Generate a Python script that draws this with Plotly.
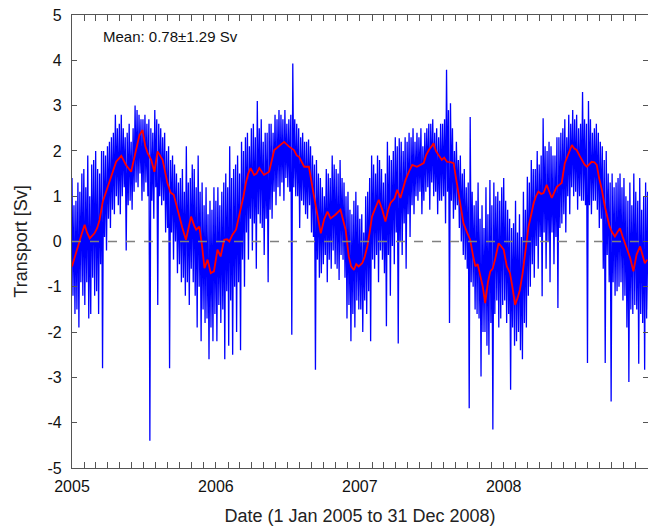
import numpy as np
import pandas as pd
import plotly.graph_objects as go

# ---- data ----
years = [2005, 2006, 2007, 2008]
step_days = 5  # each 5-day window holds one upper and one lower daily extreme

# extreme value of each 5-day window (spikes and envelope)
blue_2005 = [1.4, -1.6, 0.9, -1.9, 1.1, -1.2, 1.6, -0.9, 1.9, -1.6, 1.7, -1.2, 2.0, -1.6, 1.5, -2.8,
             2.0, -0.2, 2.1, 0.3, 2.3, 0.6, 2.8, 0.8, 2.6, 1.0, 2.5, -0.2, 2.4, 0.9, 2.2, 1.1, 3.0,
             1.2, 2.8, 0.9, 2.7, 1.3, 2.6, -4.4, 2.5, 0.5, 2.9, -1.4, 2.6, 0.8, 2.3, 0.2, 2.0, -2.8,
             1.8, -0.4, 1.7, -0.7, 1.3, -0.9, 1.6, -1.2, 2.1, -1.4, 1.4, -0.9, 1.6, -1.9, 1.9, -2.2,
             1.3, -1.8, 1.2, -2.6, 0.9, -2.2, 1.2]
blue_2006 = [-2.2, 1.2, -1.8, 1.1, -2.6, 1.5, -2.3, 2.1, -2.5, 1.6, -2.0, 1.9, -2.4, 2.2, -1.0, 2.3,
             -0.4, 2.1, -0.2, 2.6, -0.6, 3.1, 0.4, 2.7, -0.3, 2.4, -0.9, 2.6, 0.5, 2.4, 0.8, 2.7,
             1.0, 2.8, 0.9, 2.9, 1.2, 2.7, -2.06, 3.93, 1.0, 2.6, 0.3, 2.3, 0.8, 2.2, 0.5, 2.25,
             0.2, 1.9, -2.83, 1.8, -0.8, 1.4, -0.5, 1.0, -0.9, 1.5, -0.6, 1.9, -0.5, 1.6, -0.85,
             1.8, -0.4, 1.3, -1.7, 1.1, -2.2, 0.6, -1.9, 1.1, -1.5]
blue_2007 = [0.5, -2.0, 0.2, -1.6, 1.1, -2.2, 1.9, -0.6, 1.5, -0.9, 1.8, -0.4, 1.3, -1.87, 2.2, -1.2,
             1.8, -0.5, 2.3, -2.25, 2.28, -0.3, 2.0, -0.6, 2.2, 0.1, 2.3, 0.6, 2.2, 0.9, 2.3, 0.6,
             2.1, 1.1, 2.5, 0.7, 2.6, 1.0, 2.4, 0.6, 2.3, 0.9, 2.6, 0.4, 3.79, -1.8, 3.05, 0.5,
             2.0, 0.8, 1.8, 0.0, 1.5, -0.4, 1.2, -3.68, 2.75, -1.0, 0.8, -1.6, 1.3, -2.98, 0.8,
             -2.0, 1.2, -2.5, 1.36, -4.15, 1.3, -1.3, 1.1, -1.7, 1.2]
blue_2008 = [1.4, -1.8, 0.7, -3.27, 0.3, -2.3, 0.9, -2.0, 0.6, -2.6, 1.1, -1.9, 1.43, -1.0, 1.8, -0.8,
             1.6, -0.6, 1.7, -1.21, 2.72, -0.6, 2.0, -0.9, 2.1, -0.5, 1.9, -1.47, 2.3, 0.4, 2.5,
             0.2, 2.3, 0.6, 2.6, 1.0, 2.7, 0.7, 2.5, 0.9, 3.3, 0.8, -2.68, 3.1, 0.6, 2.4, 0.9, 2.6,
             0.3, 2.2, -0.6, -2.68, 2.0, -0.9, -3.53, 1.5, -1.2, 1.3, -1.0, 1.5, -1.3, 1.4, -1.9,
             -3.1, 1.3, -1.6, 1.5, -1.5, -2.7, 1.4, -1.8, -2.83, 1.3, -1.5]

# the opposite (typical-band) value of each 5-day window
band_2005 = [-1.2, 0.8, -1.5, 1.3, -0.9, 1.5, -1.4, 1.2, -1.7, 1.0, -0.8, 1.8, -1.1, 1.6, -0.5, 2.0,
             0.1, 1.9, 0.5, 2.2, 0.7, 2.4, 1.0, 2.5, 0.6, 2.8, 1.2, 2.3, 0.8, 2.6, 0.7, 2.5, 1.3,
             2.9, 1.5, 2.7, 1.1, 2.8, 1.0, 2.7, 0.9, 2.4, 1.2, 2.7, 1.0, 2.5, 0.9, 2.4, 0.3, 2.1,
             0.2, 1.9, 0.0, 1.5, -0.5, 1.4, -0.8, 1.1, -0.9, 1.3, -0.6, 1.7, -1.2, 1.2, -1.0, 1.1,
             -1.5, 0.8, -1.7, 0.6, -1.9, 0.7, -1.6]
band_2006 = [0.9, -1.4, 0.8, -1.5, 1.3, -1.1, 1.2, -1.3, 1.4, -1.0, 1.7, -0.9, 1.5, -0.4, 2.0, 0.2,
             2.4, 0.5, 2.5, 0.4, 2.3, 0.6, 2.5, 0.3, 2.2, 0.5, 2.4, 0.7, 2.6, 1.1, 2.8, 1.2, 2.9,
             1.3, 2.7, 1.4, 2.6, 1.1, 2.8, 1.2, 2.7, 1.0, 2.5, 0.9, 2.4, 0.6, 2.2, 0.8, 2.1, 0.1,
             1.7, -0.4, 1.5, -0.7, 1.2, -0.3, 1.6, -0.4, 1.4, -0.2, 1.7, -0.6, 1.5, -0.3, 1.4,
             -0.8, 1.0, -1.4, 0.7, -1.6, 0.9, -1.3, 0.8]
band_2007 = [-1.5, 0.6, -1.3, 1.0, -1.1, 1.4, -0.4, 1.7, -0.3, 1.9, -0.2, 1.6, -0.7, 1.5, -0.3, 1.9,
             -0.1, 2.0, 0.2, 2.1, 0.0, 2.2, 0.4, 2.3, 0.6, 2.4, 0.8, 2.5, 1.0, 2.4, 1.1, 2.5, 0.9,
             2.4, 1.2, 2.6, 1.3, 2.7, 1.1, 2.5, 0.9, 2.6, 1.0, 2.7, 1.1, 2.9, 0.9, 2.5, 0.7, 2.2,
             0.3, 1.9, -0.3, 1.6, -0.6, 1.3, -0.9, 1.1, -1.5, 0.9, -1.7, 0.5, -2.0, 0.3, -2.3,
             0.6, -1.8, 0.8, -1.6, 1.0, -1.9, 0.9, -1.4]
band_2008 = [-1.3, 0.9, -1.6, 0.5, -1.9, 0.4, -2.2, 0.2, -2.4, 0.1, -1.8, 0.7, -1.2, 1.3, -0.5, 1.6,
             -0.1, 2.0, 0.1, 1.9, 0.2, 2.1, 0.0, 2.2, 0.2, 1.9, 0.1, 2.3, 0.3, 2.4, 0.6, 2.7, 1.0,
             2.8, 1.2, 2.9, 1.1, 2.8, 1.0, 2.6, 0.9, 2.7, 2.6, 0.8, 2.7, 0.9, 2.5, 0.7, 2.4, 0.5,
             2.1, 1.8, -0.3, 1.5, 1.3, -0.9, 1.2, -1.1, 1.4, -0.9, 1.2, -1.2, 1.0, 0.9, -1.5, 0.8,
             -1.4, 1.1, 0.9, -1.6, 0.7, 1.0, -1.7, 1.1]

# smoothed series: day offset since 1 Jan 2005, value [Sv]
red_days = [0, 8, 15, 24, 32, 38, 45, 57, 64, 70, 78, 91, 103, 112, 125, 137, 150, 158, 171, 179,
            186, 192, 201, 209, 217, 230, 242, 250, 258, 265, 272, 280, 289, 302, 310, 315, 323,
            330, 336, 344, 352, 360,
            369, 377, 386, 393, 399, 407, 416, 428, 435, 441, 447, 453, 462, 468, 475, 487, 500,
            513, 525, 538, 550, 563, 570, 576, 589, 601, 614, 623, 631, 640, 648, 656, 668, 681,
            694, 702, 708, 715, 721, 727,
            736, 742, 749, 755, 761, 770, 778, 787, 795, 802, 808, 818, 825, 833, 840, 846, 855,
            863, 875, 885, 892, 898, 905, 912, 917, 923, 930, 938, 944, 951, 960, 968, 974, 980,
            987, 993, 1002, 1010, 1017, 1023, 1029, 1035, 1042, 1048, 1055, 1061, 1067, 1073,
            1082, 1088, 1095,
            1103, 1111, 1117, 1124, 1130, 1136, 1143, 1149, 1158, 1165, 1171, 1177, 1183, 1190,
            1196, 1204, 1211, 1217, 1224, 1230, 1236, 1242, 1250, 1259, 1268, 1274, 1280, 1287,
            1293, 1300, 1306, 1312, 1318, 1325, 1331, 1337, 1344, 1351, 1357, 1363, 1369, 1377,
            1383, 1390, 1397, 1403, 1410, 1416, 1424, 1432, 1441, 1447, 1453, 1459]
red_vals = [-0.55, -0.3, -0.1, 0.15, 0.37, 0.2, 0.07, 0.18, 0.3, 0.48, 0.88, 1.21, 1.5, 1.76, 1.89,
            1.69, 1.54, 1.87, 2.35, 2.46, 2.1, 1.95, 1.8, 1.54, 1.99, 1.8, 1.29, 1.08, 1.03, 0.8,
            0.55, 0.3, 0.04, 0.55, 0.35, 0.26, 0.33, -0.1, -0.59, -0.4, -0.7, -0.66,
            -0.18, -0.33, 0.04, 0.05, 0.0, 0.15, 0.26, 0.7, 1.0, 1.29, 1.5, 1.62, 1.47, 1.5, 1.62,
            1.47, 1.54, 2.02, 2.1, 2.2, 2.1, 2.02, 1.9, 1.87, 1.65, 1.65, 0.99, 0.6, 0.18, 0.5,
            0.66, 0.51, 0.59, 0.7, 0.26, -0.33, -0.55, -0.63, -0.5, -0.55,
            -0.48, -0.35, -0.11, 0.2, 0.55, 0.75, 0.92, 0.7, 0.44, 0.7, 0.85, 0.95, 1.14, 0.96,
            1.2, 1.36, 1.55, 1.69, 1.65, 1.7, 1.73, 1.9, 2.02, 2.1, 2.17, 2.0, 1.91, 1.8, 1.85,
            1.76, 1.75, 1.73, 1.4, 1.07, 0.7, 0.4, 0.2, 0.04, -0.3, -0.55, -0.5, -0.77, -1.0,
            -1.36, -0.9, -0.66, -0.6, -0.4, -0.04, -0.1, -0.18,
            -0.55, -0.7, -1.0, -1.4, -1.25, -1.07, -0.7, -0.33, 0.33, 0.6, 0.85, 1.0, 1.1, 1.05,
            1.07, 1.25, 1.1, 0.96, 1.1, 1.21, 1.25, 1.29, 1.73, 1.95, 2.13, 2.05, 2.02, 1.9, 1.8,
            1.7, 1.65, 1.7, 1.76, 1.75, 1.69, 1.4, 1.14, 0.8, 0.55, 0.35, 0.22, 0.11, 0.2, 0.29,
            0.1, -0.04, -0.2, -0.37, -0.66, -0.29, -0.11, -0.3, -0.48, -0.4]

y_ticks = [-5, -4, -3, -2, -1, 0, 1, 2, 3, 4, 5]
y_tick_labels = ["-5", "-4", "-3", "-2", "-1", "0", "1", "2", "3", "4", "5"]
x_tick_labels = ["2005", "2006", "2007", "2008"]
mean_text = "Mean: 0.78\u00b11.29 Sv"

# ---- build the blue series: in every 5-day window, upper value first, then lower ----
blue_x, blue_y = [], []
for yr, ext, band in zip(years, [blue_2005, blue_2006, blue_2007, blue_2008],
                         [band_2005, band_2006, band_2007, band_2008]):
    start = pd.Timestamp(f"{yr}-01-01")
    for i, (a, b) in enumerate(zip(ext, band)):
        t0 = start + pd.Timedelta(days=step_days * i)
        blue_x += [t0, t0 + pd.Timedelta(hours=60)]
        blue_y += [max(a, b), min(a, b)]

red_x = pd.Timestamp("2005-01-01") + pd.to_timedelta(np.array(red_days), unit="D")

FONT = "Liberation Sans, Arial, sans-serif"
AX = "#555555"

fig = go.Figure()
fig.add_trace(go.Scatter(x=blue_x, y=blue_y, mode="lines",
                         line=dict(color="rgb(0,0,255)", width=1.3), showlegend=False))
fig.add_trace(go.Scatter(x=red_x, y=red_vals, mode="lines",
                         line=dict(color="rgb(255,0,0)", width=1.8), showlegend=False))

fig.add_shape(type="line", xref="paper", yref="y", x0=0, x1=1, y0=0, y1=0,
              line=dict(color="rgb(128,128,128)", width=1.3, dash="dash"), layer="above")

fig.add_annotation(text=mean_text, xref="paper", yref="paper", x=0.05, y=0.952,
                   xanchor="left", yanchor="middle", showarrow=False,
                   font=dict(family=FONT, size=15, color="#111111"))

fig.update_layout(
    width=648, height=530,
    margin=dict(l=72, r=0, t=15, b=62),
    paper_bgcolor="white", plot_bgcolor="white",
    font=dict(family=FONT, color="#111111"),
    xaxis=dict(
        type="date", range=["2005-01-01", "2009-01-01"],
        tickvals=[f"{y}-01-01" for y in years], ticktext=x_tick_labels,
        ticks="inside", ticklen=6, tickcolor=AX, tickwidth=1,
        minor=dict(dtick="M1", ticks="inside", ticklen=6, tickcolor=AX, tickwidth=1, showgrid=False),
        showline=True, linecolor=AX, linewidth=1.2, mirror="allticks",
        showgrid=False, zeroline=False,
        tickfont=dict(family=FONT, size=16, color="#111111"), ticklabelstandoff=4,
        title=dict(text="Date (1 Jan 2005 to 31 Dec 2008)", standoff=15,
                   font=dict(family=FONT, size=18, color="#222222")),
    ),
    yaxis=dict(
        range=[-5, 5], tickvals=y_ticks, ticktext=y_tick_labels,
        ticks="inside", ticklen=5, tickcolor=AX, tickwidth=1,
        showline=True, linecolor=AX, linewidth=1.2, mirror="allticks",
        showgrid=False, zeroline=False,
        tickfont=dict(family=FONT, size=16, color="#111111"), ticklabelstandoff=6,
        title=dict(text="Transport [Sv]", standoff=15,
                   font=dict(family=FONT, size=18, color="#222222")),
    ),
)

fig.write_html("out.html", config={"displayModeBar": False},
               post_script="document.body.style.margin='0px';")
